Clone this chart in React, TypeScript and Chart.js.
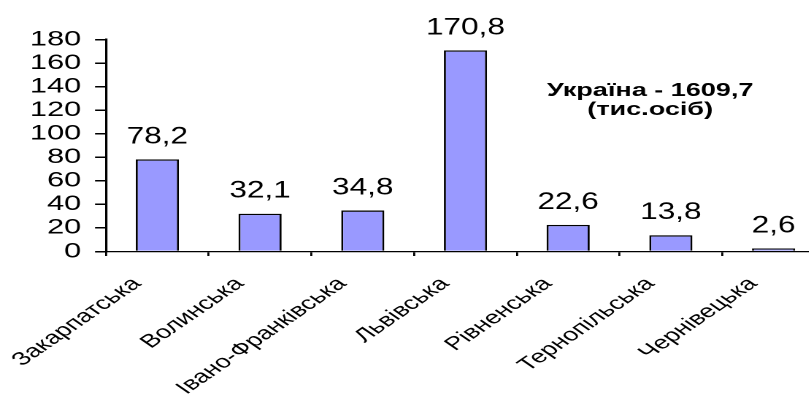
import React, { useEffect, useRef } from "react";
import { Chart, registerables } from "chart.js";

Chart.register(...registerables);

// ---- data ----
const categories = [
  "Закарпатська",
  "Волинська",
  "Івано-Франківська",
  "Львівська",
  "Рівненська",
  "Тернопільська",
  "Чернівецька",
];
const values = [78.2, 32.1, 34.8, 170.8, 22.6, 13.8, 2.6];
const valueLabels = ["78,2", "32,1", "34,8", "170,8", "22,6", "13,8", "2,6"];
const yMin = 0;
const yMax = 180;
const yStep = 20;
const noteLines = ["Україна - 1609,7", "(тис.осіб)"];

// ---- layout ----
const SX = 1.46; // horizontal stretch of the whole picture
const W = 575;
const H = 394;
const FONT = '"Liberation Sans", Arial, sans-serif';

const labelsPlugin = {
  id: "valueLabels",
  afterDatasetsDraw(chart: any) {
    const ctx = chart.ctx;
    const meta = chart.getDatasetMeta(0);
    ctx.save();
    ctx.fillStyle = "#000";
    ctx.textAlign = "center";
    ctx.textBaseline = "alphabetic";
    ctx.font = `24px ${FONT}`;
    meta.data.forEach((bar: any, i: number) => {
      ctx.save();
      ctx.translate(bar.x, bar.y - 16);
      ctx.scale(0.9, 1);
      ctx.fillText(valueLabels[i], 0, 0);
      ctx.restore();
    });
    const ca = chart.chartArea;
    const nx = ca.left + (ca.right - ca.left) * 0.757;
    ctx.font = `bold 18.5px ${FONT}`;
    ctx.fillText(noteLines[0], nx, 96);
    ctx.fillText(noteLines[1], nx, 115);
    ctx.restore();
  },
};

export default function App() {
  const ref = useRef<HTMLCanvasElement | null>(null);

  useEffect(() => {
    if (!ref.current) return;
    const chart = new Chart(ref.current, {
      type: "bar",
      data: {
        labels: categories,
        datasets: [
          {
            data: values,
            backgroundColor: "#9999FF",
            borderColor: "#000000",
            borderWidth: 1.4,
            barPercentage: 0.42,
            categoryPercentage: 1,
          },
        ],
      },
      options: {
        responsive: false,
        animation: false,
        devicePixelRatio: 2,
        events: [],
        layout: { padding: { top: 39.5, left: 0, right: 10, bottom: 0 } },
        plugins: {
          legend: { display: false },
          tooltip: { enabled: false },
        },
        scales: {
          x: {
            type: "category",
            offset: true,
            grid: {
              offset: true,
              drawOnChartArea: false,
              drawTicks: true,
              tickLength: 4.5,
              color: "#000",
              lineWidth: 1.4,
            },
            border: { display: true, color: "#000", width: 1.3 },
            ticks: {
              autoSkip: false,
              minRotation: 45,
              maxRotation: 45,
              color: "#000",
              padding: 17,
              labelOffset: -14,
              font: { family: FONT, size: 18.5 },
            },
            afterFit: (s: any) => {
              s.height = H - 251.5;
            },
          },
          y: {
            min: yMin,
            max: yMax,
            grid: {
              drawOnChartArea: false,
              drawTicks: true,
              tickLength: 7.5,
              color: "#000",
              lineWidth: 1.5,
            },
            border: { display: true, color: "#000", width: 1.6 },
            ticks: {
              stepSize: yStep,
              autoSkip: false,
              color: "#000",
              padding: 9.5,
              font: { family: FONT, size: 21 },
            },
            afterFit: (s: any) => {
              s.width = 72.6;
            },
          },
        },
      },
      plugins: [labelsPlugin],
    });
    return () => chart.destroy();
  }, []);

  return (
    <div
      style={{
        position: "fixed",
        left: 0,
        top: 0,
        width: 809,
        height: 394,
        overflow: "hidden",
        background: "#fff",
      }}
    >
      <div
        style={{
          width: W,
          height: H,
          transform: `scaleX(${SX})`,
          transformOrigin: "0 0",
        }}
      >
        <canvas
          ref={ref}
          width={W}
          height={H}
          style={{ width: W, height: H, display: "block" }}
        />
      </div>
    </div>
  );
}
